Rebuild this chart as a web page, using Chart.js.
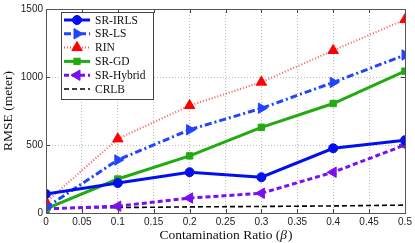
<!DOCTYPE html>
<html><head><meta charset="utf-8">
<script src="https://cdn.jsdelivr.net/npm/chart.js@4/dist/chart.umd.min.js"></script>
<style>html,body{margin:0;padding:0;background:#fff}#w{width:415px;height:243px;position:relative}</style>
</head><body><div id="w"><canvas id="c"></canvas></div>
<script>
const ratios = [0, 0.1, 0.2, 0.3, 0.4, 0.5];
const srIRLS = [140, 220, 300, 263, 476, 535];
const srLS = [40, 390, 612, 770, 960, 1162];
const rin = [80, 545, 790, 962, 1195, 1422];
const srGD = [30, 250, 420, 630, 805, 1043];
const srHybrid = [30, 50, 110, 145, 300, 500];
const crlb = [35, 40, 45, 48, 52, 58];
const xTicks = [0,0.05,0.1,0.15,0.2,0.25,0.3,0.35,0.4,0.45,0.5];
const yTicks = [0,500,1000,1500];

const pts = a => a.map((v,i)=>({x:ratios[i],y:v}));
const datasets = [
 {label:'SR-IRLS',data:pts(srIRLS),borderColor:'#0010ee',backgroundColor:'#0010ee',borderWidth:3,pointStyle:'circle',pointRadius:4.5,borderDash:[]},
 {label:'SR-LS',data:pts(srLS),borderColor:'#2244ff',backgroundColor:'#2244ff',borderWidth:3,pointStyle:'triangle',rotation:90,pointRadius:6,borderDash:[7,3,2,3]},
 {label:'RIN',data:pts(rin),borderColor:'#ff5555',backgroundColor:'#ff0000',borderWidth:2,pointStyle:'triangle',rotation:0,pointRadius:6,borderDash:[1,2],pointBorderColor:'#ff0000'},
 {label:'SR-GD',data:pts(srGD),borderColor:'#22aa11',backgroundColor:'#22aa11',borderWidth:3,pointStyle:'rect',pointRadius:4.5,borderDash:[]},
 {label:'SR-Hybrid',data:pts(srHybrid),borderColor:'#7a10f0',backgroundColor:'#7a10f0',borderWidth:3,pointStyle:'triangle',rotation:-90,pointRadius:6,borderDash:[5,3]},
 {label:'CRLB',data:pts(crlb),borderColor:'#000000',backgroundColor:'#000000',borderWidth:1.6,pointRadius:0,borderDash:[5,3]}
];
datasets.forEach(d=>{d.pointBorderWidth=1;if(!d.pointBorderColor)d.pointBorderColor=d.backgroundColor;d.fill=false;d.tension=0;});

const SERIF='"Liberation Serif", "DejaVu Serif", serif';
const frame = {
 id:'frame',
 afterDatasetsDraw(chart){
  const {ctx, chartArea:a, scales:{x,y}} = chart;
  ctx.save();
  ctx.strokeStyle='#444'; ctx.lineWidth=1; ctx.setLineDash([]);
  ctx.beginPath();
  xTicks.forEach(t=>{const px=Math.round(x.getPixelForValue(t))+0.5;ctx.moveTo(px,a.bottom);ctx.lineTo(px,a.bottom-4);ctx.moveTo(px,a.top);ctx.lineTo(px,a.top+4);});
  yTicks.forEach(t=>{const py=Math.round(y.getPixelForValue(t))+0.5;ctx.moveTo(a.left,py);ctx.lineTo(a.left+4,py);ctx.moveTo(a.right,py);ctx.lineTo(a.right-4,py);});
  ctx.stroke();
  ctx.strokeStyle='#555';
  ctx.strokeRect(Math.round(a.left)+0.5,Math.round(a.top)+0.5,Math.round(a.right-a.left),Math.round(a.bottom-a.top));
  // legend
  const lx=61.5, ly=12.5, lw=92, lh=87;
  ctx.fillStyle='#fff'; ctx.fillRect(lx,ly,lw,lh);
  ctx.strokeStyle='#444'; ctx.strokeRect(lx,ly,lw,lh);
  chart.data.datasets.forEach((d,i)=>{
   const cy=20+i*13.8;
   ctx.strokeStyle=d.borderColor; ctx.lineWidth=d.borderWidth; ctx.setLineDash(d.borderDash||[]);
   ctx.beginPath(); ctx.moveTo(64,cy); ctx.lineTo(90,cy); ctx.stroke();
   ctx.setLineDash([]);
   if(d.pointRadius>0){
     ctx.fillStyle=d.backgroundColor; ctx.strokeStyle=d.pointBorderColor; ctx.lineWidth=1;
     Chart.helpers.drawPoint(ctx,{pointStyle:d.pointStyle,rotation:d.rotation||0,radius:d.pointRadius,borderWidth:1},77,cy);
   }
   ctx.fillStyle='#111'; ctx.font='11.5px '+SERIF;
   ctx.textBaseline='middle'; ctx.textAlign='left';
   ctx.fillText(d.label,95,cy+0.5);
  });
  // x title with italic beta
  const cx=(a.left+a.right)/2, ty=235;
  ctx.fillStyle='#111'; ctx.textBaseline='middle'; ctx.textAlign='left';
  const p1='Contamination Ratio (', p2='β', p3=')';
  ctx.font='13.5px '+SERIF; const w1=ctx.measureText(p1).width, w3=ctx.measureText(p3).width;
  ctx.font='italic 13.5px '+SERIF; const w2=ctx.measureText(p2).width;
  let sx=cx-(w1+w2+w3)/2;
  ctx.font='13.5px '+SERIF; ctx.fillText(p1,sx,ty);
  ctx.font='italic 13.5px '+SERIF; ctx.fillText(p2,sx+w1,ty);
  ctx.font='13.5px '+SERIF; ctx.fillText(p3,sx+w1+w2+1,ty);
  ctx.restore();
 }
};

new Chart(document.getElementById('c'),{
 type:'line',
 data:{datasets},
 options:{
  responsive:true, maintainAspectRatio:false, animation:false,
  layout:{padding:{left:0,right:10,top:6,bottom:0}},
  plugins:{legend:{display:false},tooltip:{enabled:false}},
  scales:{
   x:{type:'linear',min:0,max:0.5,
     afterBuildTicks:s=>{s.ticks=xTicks.map(v=>({value:v}));},
     afterFit:s=>{s.height=30;},
     ticks:{callback:v=>String(parseFloat(v.toFixed(2))),color:'#222',font:{family:'"Liberation Sans", Arial, sans-serif',size:10},maxRotation:0,padding:3},
     grid:{color:'#bbb',lineWidth:1,drawTicks:false},
     border:{display:false,dash:[1,2]}
   },
   y:{type:'linear',min:0,max:1500,
     afterBuildTicks:s=>{s.ticks=yTicks.map(v=>({value:v}));},
     afterFit:s=>{s.width=46;},
     ticks:{callback:v=>String(v),color:'#222',font:{family:'"Liberation Sans", Arial, sans-serif',size:10},padding:3},
     grid:{color:'#bbb',lineWidth:1,drawTicks:false},
     border:{display:false,dash:[1,2]},
     title:{display:true,text:'RMSE (meter)',color:'#111',font:{family:SERIF,size:13.5},padding:{top:0,bottom:2}}
   }
  }
 },
 plugins:[frame]
});
</script></body></html>
